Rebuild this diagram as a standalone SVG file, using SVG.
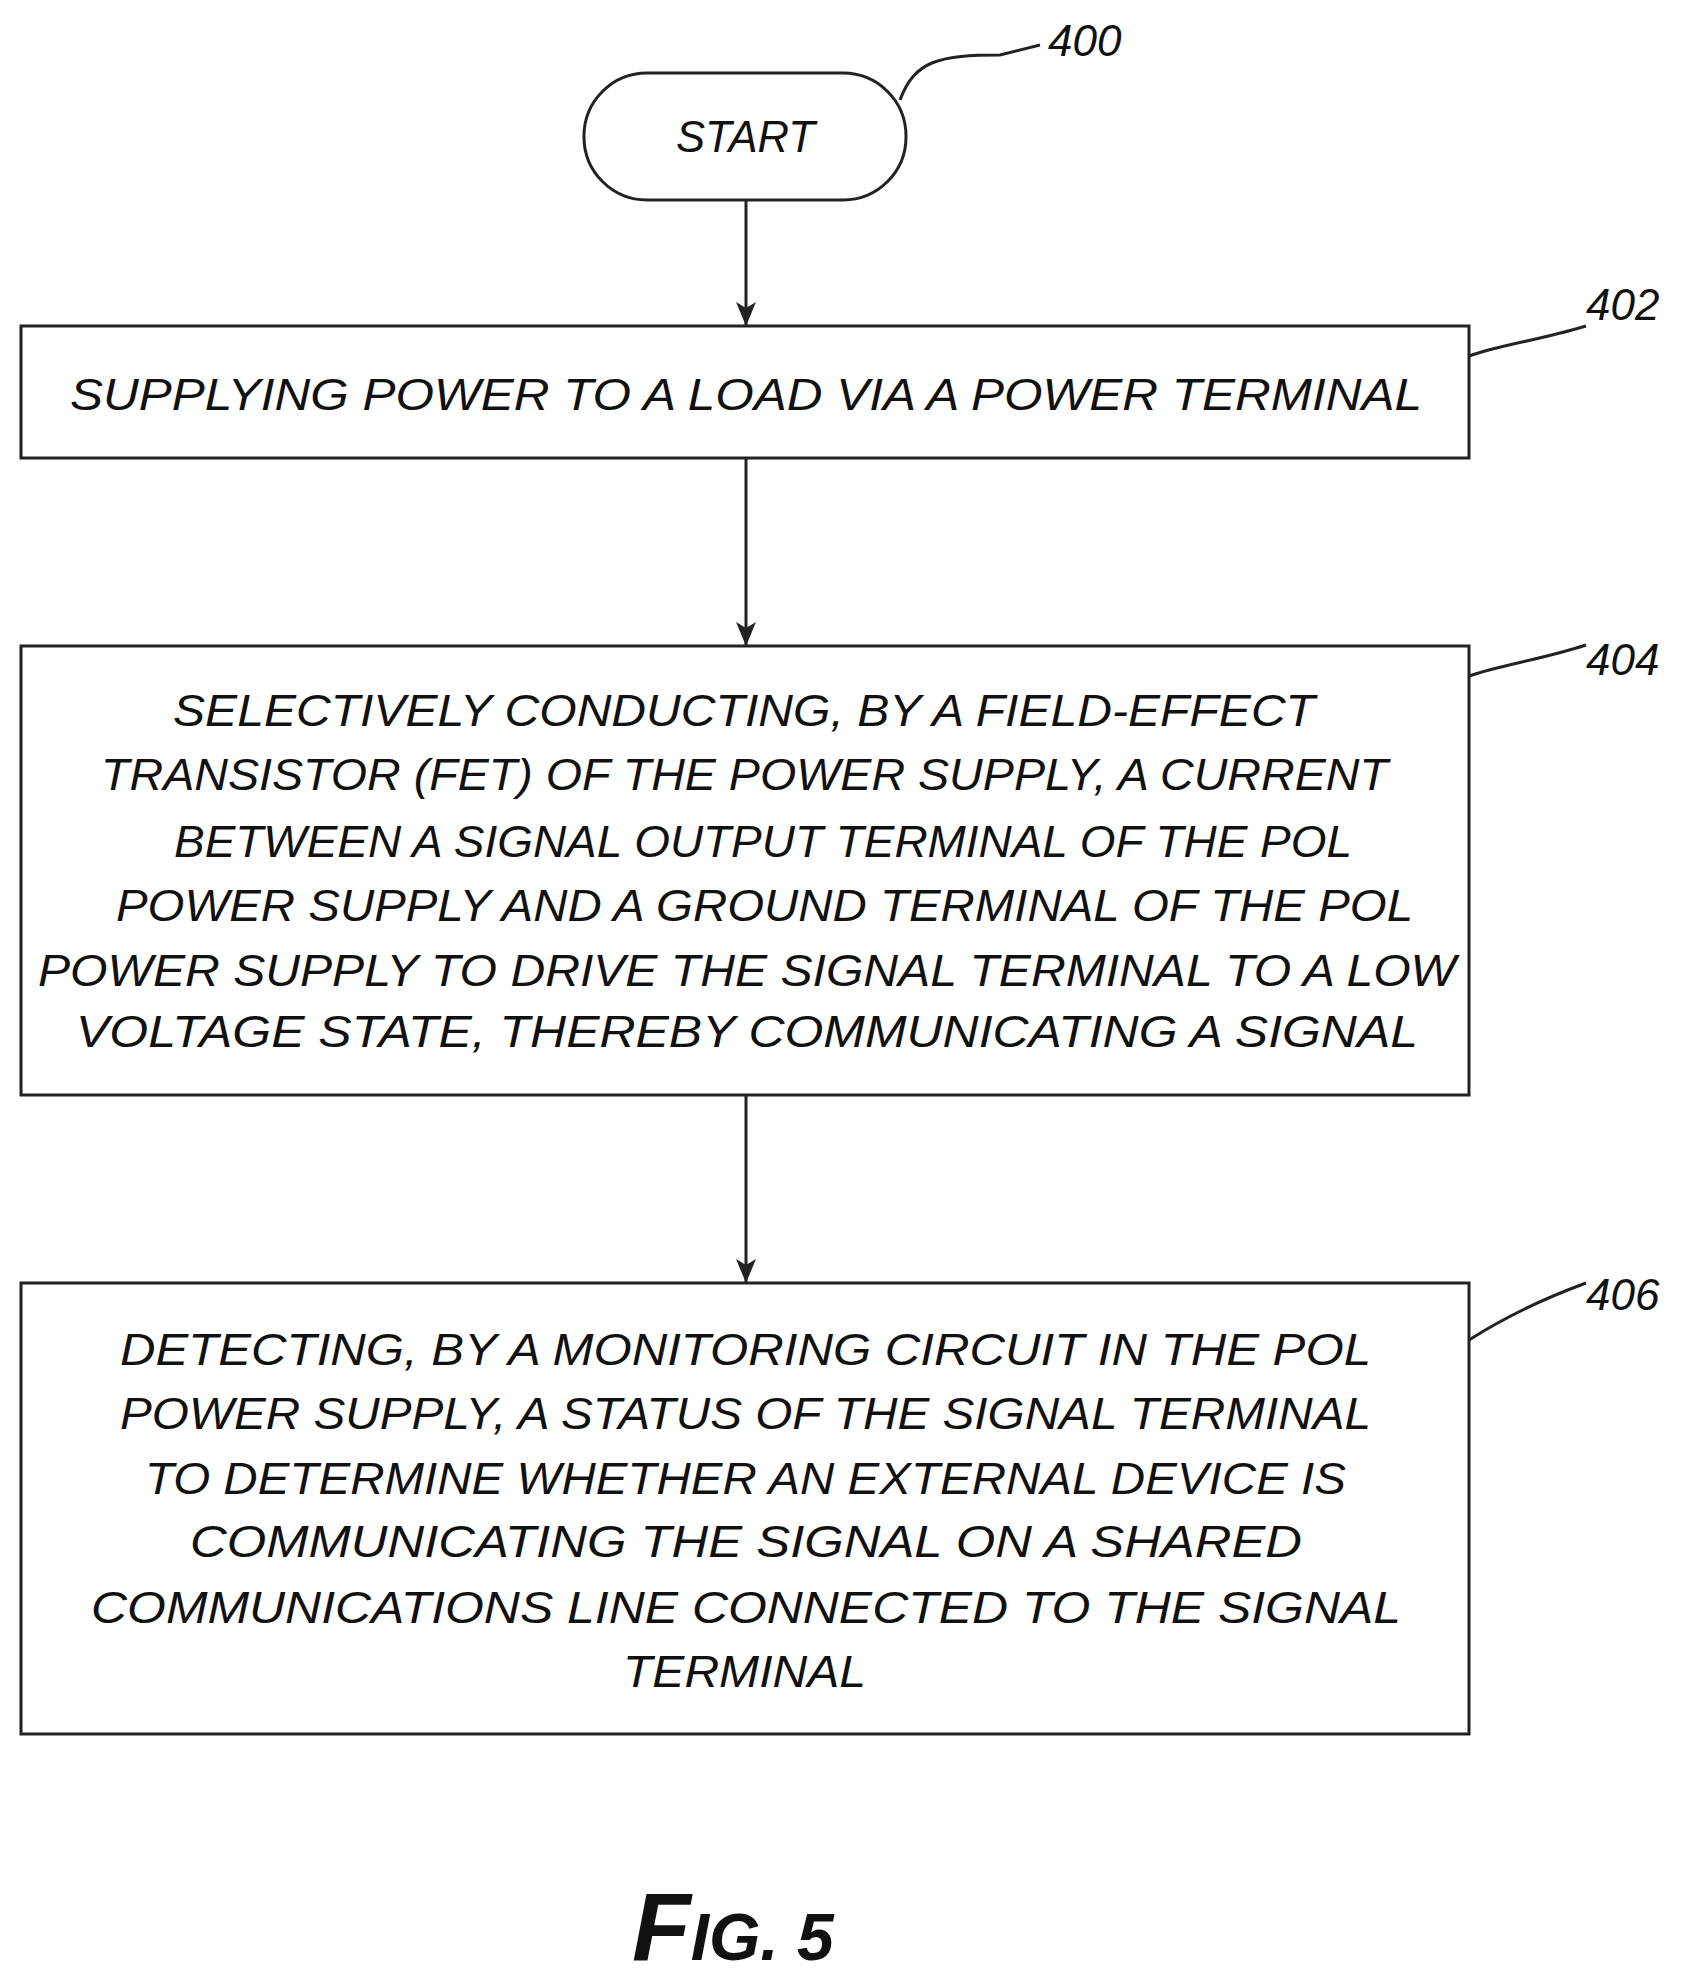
<svg xmlns="http://www.w3.org/2000/svg" width="1693" height="1988" viewBox="0 0 1693 1988">
<defs>
<style>
.b{fill:none;stroke:#222;stroke-width:3}
.t{font-family:"Liberation Sans",Arial,sans-serif;font-style:italic;font-size:44px;fill:#111}
.n{font-family:"Liberation Sans",Arial,sans-serif;font-style:italic;font-size:44px;fill:#111}
.c{stroke:#222;stroke-width:3;fill:none}
</style>
<marker id="a" markerWidth="24" markerHeight="20" refX="24" refY="10" orient="auto" markerUnits="userSpaceOnUse" viewBox="0 0 24 20"><path d="M0,0 L24,10 L0,20 L6,10 Z" fill="#222"/></marker>
</defs>
<rect width="1693" height="1988" fill="#fff"/>
<g id="n400">
<rect class="b" x="584" y="73" width="322" height="127" rx="63"/>
<text class="t" x="676" y="152" textLength="139" lengthAdjust="spacingAndGlyphs">START</text>
<path class="c" d="M900,100 C915,60 940,55 1000,55 L1040,45"/>
<text class="n" x="1048" y="56">400</text>
</g>
<g id="n402">
<rect class="b" x="21" y="326" width="1448" height="132"/>
<text class="t" x="70" y="410" textLength="1352" lengthAdjust="spacingAndGlyphs">SUPPLYING POWER TO A LOAD VIA A POWER TERMINAL</text>
<path class="c" d="M1469,356 C1500,345 1540,340 1586,326"/>
<text class="n" x="1586" y="320">402</text>
</g>
<g id="n404">
<rect class="b" x="21" y="646" width="1448" height="449"/>
<text class="t" x="173" y="726" textLength="1142" lengthAdjust="spacingAndGlyphs">SELECTIVELY CONDUCTING, BY A FIELD-EFFECT</text>
<text class="t" x="101" y="790" textLength="1287" lengthAdjust="spacingAndGlyphs">TRANSISTOR (FET) OF THE POWER SUPPLY, A CURRENT</text>
<text class="t" x="174" y="857" textLength="1178" lengthAdjust="spacingAndGlyphs">BETWEEN A SIGNAL OUTPUT TERMINAL OF THE POL</text>
<text class="t" x="116" y="921" textLength="1297" lengthAdjust="spacingAndGlyphs">POWER SUPPLY AND A GROUND TERMINAL OF THE POL</text>
<text class="t" x="38" y="986" textLength="1418" lengthAdjust="spacingAndGlyphs">POWER SUPPLY TO DRIVE THE SIGNAL TERMINAL TO A LOW</text>
<text class="t" x="76" y="1047" textLength="1342" lengthAdjust="spacingAndGlyphs">VOLTAGE STATE, THEREBY COMMUNICATING A SIGNAL</text>
<path class="c" d="M1469,676 C1500,665 1540,660 1586,645"/>
<text class="n" x="1586" y="675">404</text>
</g>
<g id="n406">
<rect class="b" x="21" y="1283" width="1448" height="451"/>
<text class="t" x="120" y="1365" textLength="1251" lengthAdjust="spacingAndGlyphs">DETECTING, BY A MONITORING CIRCUIT IN THE POL</text>
<text class="t" x="120" y="1429" textLength="1251" lengthAdjust="spacingAndGlyphs">POWER SUPPLY, A STATUS OF THE SIGNAL TERMINAL</text>
<text class="t" x="145" y="1494" textLength="1201" lengthAdjust="spacingAndGlyphs">TO  DETERMINE WHETHER AN EXTERNAL DEVICE IS</text>
<text class="t" x="190" y="1557" textLength="1112" lengthAdjust="spacingAndGlyphs">COMMUNICATING THE SIGNAL ON A SHARED</text>
<text class="t" x="91" y="1623" textLength="1310" lengthAdjust="spacingAndGlyphs">COMMUNICATIONS LINE CONNECTED TO THE SIGNAL</text>
<text class="t" x="623" y="1687" textLength="243" lengthAdjust="spacingAndGlyphs">TERMINAL</text>
<path class="c" d="M1469,1340 C1500,1320 1540,1300 1586,1283"/>
<text class="n" x="1586" y="1310">406</text>
</g>
<g id="connectors">
<line class="c" x1="746" y1="200" x2="746" y2="326" marker-end="url(#a)"/>
<line class="c" x1="746" y1="458" x2="746" y2="646" marker-end="url(#a)"/>
<line class="c" x1="746" y1="1095" x2="746" y2="1283" marker-end="url(#a)"/>
</g>
<text x="632" y="1960" font-family="Liberation Sans,Arial,sans-serif" font-style="italic" font-weight="bold" fill="#111"><tspan font-size="96">F</tspan><tspan font-size="66">IG. 5</tspan></text>
</svg>
